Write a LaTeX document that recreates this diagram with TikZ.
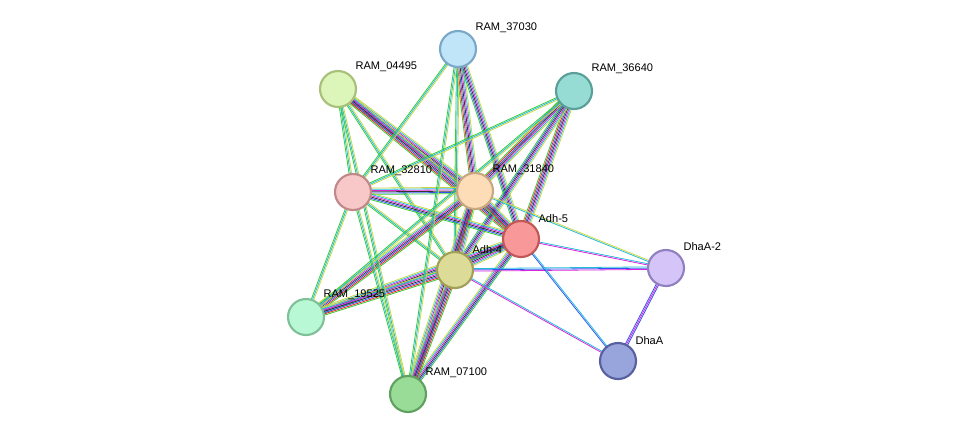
\documentclass[tikz,border=0pt]{standalone}
\usepackage{fontspec}
\setmainfont{Liberation Sans}
\usetikzlibrary{calc}
\definecolor{eg}{HTML}{33CC33}
\definecolor{er}{HTML}{EE2222}
\definecolor{eb}{HTML}{3355EE}
\definecolor{ek}{HTML}{333333}
\definecolor{em}{HTML}{DD22DD}
\definecolor{ec}{HTML}{22BBDD}
\definecolor{ey}{HTML}{C8D840}
\tikzset{
  prot/.style={circle,minimum size=36*0.75pt,inner sep=0pt,line width=1.6pt},
  lab/.style={font=\fontsize{8.3pt}{9pt}\selectfont,inner sep=1pt,anchor=south west}
}
\newcommand\edge[3]{%
  \edef\edgelist{#3}%
  \foreach \c/\o in \edgelist {%
    \draw[\c,line width=0.6pt] ($(#1)!{\o*0.95pt}!90:(#2)$) -- ($(#2)!{\o*0.95pt}!-90:(#1)$);
  }}
\def\Lfull{eg/-3,er/-2,eb/-1,ek/0,em/1,ec/2,ey/3}
\def\Lmid{eg/-2,eb/-1,ek/0,em/1,ec/2,ey/3}
\def\Lbas{eg/-1,ec/0,ey/1}
\begin{document}
\begin{tikzpicture}[x=0.75pt,y=-0.75pt]
\useasboundingbox (0,0) rectangle (976,440);
\coordinate (p37030) at (458,49);
\coordinate (p04495) at (338,89);
\coordinate (p36640) at (574,91);
\coordinate (p32810) at (353,192);
\coordinate (p31840) at (475,191);
\coordinate (pAdh5) at (521,239);
\coordinate (pAdh4) at (455,270);
\coordinate (pDhaA2) at (666,268);
\coordinate (p19525) at (306,317);
\coordinate (pDhaA) at (618,361);
\coordinate (p07100) at (408,394);
% edges
\edge{p04495}{p31840}{\Lfull}
\edge{p04495}{pAdh5}{\Lfull}
\edge{p04495}{pAdh4}{\Lbas}
\edge{p37030}{p31840}{\Lfull}
\edge{p37030}{pAdh5}{\Lmid}
\edge{p37030}{pAdh4}{\Lbas}
\edge{p36640}{p31840}{\Lfull}
\edge{p36640}{pAdh5}{\Lfull}
\edge{p36640}{pAdh4}{\Lmid}
\edge{p31840}{pAdh5}{\Lfull}
\edge{p31840}{pAdh4}{\Lfull}
\edge{pAdh5}{pAdh4}{\Lfull}
\edge{p32810}{p31840}{\Lmid}
\edge{p32810}{pAdh5}{\Lmid}
\edge{p32810}{pAdh4}{\Lbas}
\edge{p19525}{p31840}{\Lfull}
\edge{p19525}{pAdh5}{\Lmid}
\edge{p19525}{pAdh4}{\Lfull}
\edge{p07100}{p31840}{\Lfull}
\edge{p07100}{pAdh5}{\Lmid}
\edge{p07100}{pAdh4}{\Lfull}
\edge{p04495}{p32810}{\Lbas}
\edge{p04495}{p07100}{\Lbas}
\edge{p37030}{p32810}{\Lbas}
\edge{p37030}{p07100}{\Lbas}
\edge{p36640}{p32810}{\Lbas}
\edge{p36640}{p19525}{\Lbas}
\edge{p32810}{p19525}{\Lbas}
\edge{p32810}{p07100}{\Lbas}
\edge{pAdh5}{pDhaA2}{em/-0.5,ec/0.5}
\edge{pAdh4}{pDhaA2}{em/-1,eb/0,ec/1}
\edge{pAdh5}{pDhaA}{eb/-0.5,ec/0.5}
\edge{pAdh4}{pDhaA}{em/-0.5,ec/0.5}
\edge{p31840}{pDhaA2}{ec/-0.5,ey/0.5}
\edge{pDhaA2}{pDhaA}{eb/-1,em/0,eb/1}
% nodes
\node[prot,fill={rgb,255:red,192;green,228;blue,248},draw={rgb,255:red,122;green,168;blue,200}] (n37030) at (p37030) {};
\node[prot,fill={rgb,255:red,220;green,245;blue,184},draw={rgb,255:red,168;green,192;blue,122}] (n04495) at (p04495) {};
\node[prot,fill={rgb,255:red,150;green,220;blue,212},draw={rgb,255:red,90;green,160;blue,152}] (n36640) at (p36640) {};
\node[prot,fill={rgb,255:red,248;green,200;blue,200},draw={rgb,255:red,192;green,136;blue,136}] (n32810) at (p32810) {};
\node[prot,fill={rgb,255:red,253;green,220;blue,184},draw={rgb,255:red,200;green,168;blue,128}] (n31840) at (p31840) {};
\node[prot,fill={rgb,255:red,248;green,152;blue,152},draw={rgb,255:red,192;green,88;blue,88}] (nAdh5) at (pAdh5) {};
\node[prot,fill={rgb,255:red,220;green,220;blue,152},draw={rgb,255:red,160;green,160;blue,88}] (nAdh4) at (pAdh4) {};
\node[prot,fill={rgb,255:red,212;green,196;blue,248},draw={rgb,255:red,144;green,128;blue,192}] (nDhaA2) at (pDhaA2) {};
\node[prot,fill={rgb,255:red,184;green,248;blue,212},draw={rgb,255:red,128;green,192;blue,152}] (n19525) at (p19525) {};
\node[prot,fill={rgb,255:red,152;green,164;blue,220},draw={rgb,255:red,88;green,96;blue,160}] (nDhaA) at (pDhaA) {};
\node[prot,fill={rgb,255:red,152;green,220;blue,152},draw={rgb,255:red,96;green,160;blue,96}] (n07100) at (p07100) {};
% labels
\node[lab] (l37030) at (474,34) {RAM\_37030};
\node[lab] (l04495) at (354,73) {RAM\_04495};
\node[lab] (l36640) at (590,75) {RAM\_36640};
\node[lab] (l32810) at (369,177) {RAM\_32810};
\node[lab] (l31840) at (491,176) {RAM\_31840};
\node[lab] (lAdh5) at (537,224) {Adh-5};
\node[lab] (lAdh4) at (471,255) {Adh-4};
\node[lab] (lDhaA2) at (682,252) {DhaA-2};
\node[lab] (l19525) at (322,301) {RAM\_19525};
\node[lab] (lDhaA) at (634,346) {DhaA};
\node[lab] (l07100) at (424,379) {RAM\_07100};
\end{tikzpicture}
\end{document}
